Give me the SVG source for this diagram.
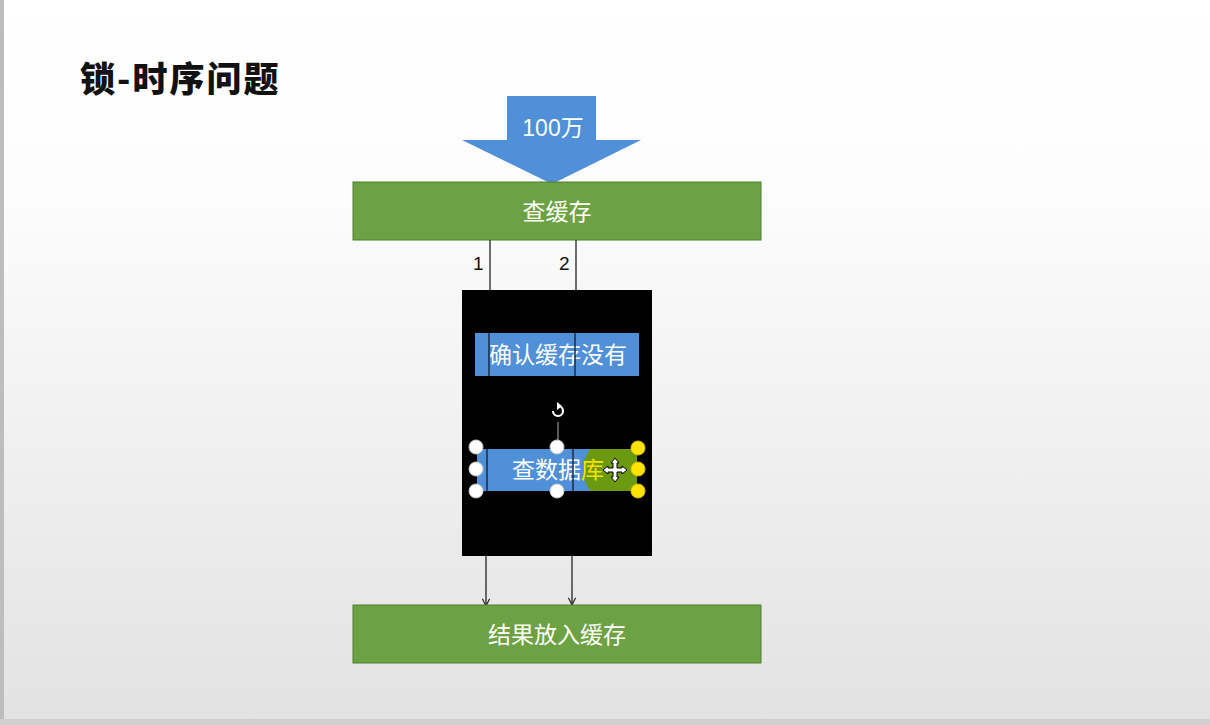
<svg xmlns="http://www.w3.org/2000/svg" width="1210" height="725" viewBox="0 0 1210 725">
<defs>
<linearGradient id="bg" x1="0" y1="0" x2="0" y2="1">
<stop offset="0" stop-color="#ffffff"/>
<stop offset="0.25" stop-color="#fdfdfd"/>
<stop offset="1" stop-color="#e2e2e2"/>
</linearGradient>
<marker id="arr" viewBox="0 0 10 10" refX="9" refY="5" markerWidth="9" markerHeight="9" markerUnits="userSpaceOnUse" orient="auto">
<path d="M1,1 L9,5 L1,9" fill="none" stroke="#222" stroke-width="1.3"/>
</marker>
<style>
.green{fill:#6ca243;stroke:#4e7f2c;stroke-width:1}
.blue{fill:#4f90d9}
.wt{font-family:"Liberation Sans","Noto Sans CJK SC",sans-serif;font-size:23px;fill:#ffffff;text-anchor:middle}
.ln{stroke:#222;stroke-width:1.3;fill:none}
.dk{stroke:#1a2a40;stroke-width:1.5;fill:none}
.hw{fill:#ffffff;stroke:#cccccc;stroke-width:1}
.hy{fill:#ffe400;stroke:#d8c000;stroke-width:1}
.num{font-family:"Liberation Sans",sans-serif;font-size:19px;fill:#111}
</style>
</defs>
<rect width="1210" height="725" fill="url(#bg)"/>
<rect x="0" y="0" width="4" height="725" fill="#bdbdbd"/>
<rect x="0" y="719" width="1210" height="6" fill="#cfcfcf"/>
<text x="80" y="92" font-family="'Noto Sans CJK SC',sans-serif" font-weight="900" font-size="35" letter-spacing="2" fill="#111">锁-时序问题</text>

<g id="input">
<path d="M507,96 L596,96 L596,140 L641,140 L552,184 L462,140 L507,140 Z" fill="#4f90d9"/>
<text class="wt" x="553" y="136">100万</text>
</g>

<g id="query-cache">
<rect class="green" x="353" y="182" width="408" height="58"/>
<text class="wt" x="557" y="220">查缓存</text>
</g>

<g id="locked-block">
<rect x="462" y="290" width="190" height="266" fill="#000"/>
</g>

<g id="confirm">
<rect class="blue" x="475" y="333" width="164" height="43"/>
<text class="wt" x="558" y="363">确认缓存没有</text>
</g>

<g id="query-db">
<rect class="blue" x="477" y="449" width="160" height="42"/>
<path d="M637,449 L590,449 Q576,470 590,491 L637,491 Z" fill="#6b9a10"/>
<text x="512" y="478" font-family="'Liberation Sans','Noto Sans CJK SC',sans-serif" font-size="23" fill="#fff">查数据<tspan fill="#f5e200">库</tspan></text>
<line x1="558" y1="422" x2="558" y2="447" stroke="#777" stroke-width="1.5"/>
<path d="M553,411 A5,5 0 1 0 558,406" fill="none" stroke="#fff" stroke-width="2.2"/>
<path d="M557,402 L562,406 L557,410 Z" fill="#fff"/>
<g stroke="#000" stroke-width="1" fill="#fff">
<path d="M615,458 L619,463 L617,463 L617,468 L622,468 L622,466 L627,470 L622,474 L622,472 L617,472 L617,477 L619,477 L615,482 L611,477 L613,477 L613,472 L608,472 L608,474 L603,470 L608,466 L608,468 L613,468 L613,463 L611,463 Z"/>
</g>
</g>

<g id="connectors">
<line class="ln" x1="490" y1="240" x2="490" y2="291"/>
<line class="ln" x1="576" y1="240" x2="576" y2="291"/>
<line class="dk" x1="489" y1="333" x2="489" y2="376"/>
<line class="dk" x1="575" y1="333" x2="575" y2="376"/>
<line class="dk" x1="487" y1="449" x2="487" y2="491"/>
<line class="dk" x1="573" y1="449" x2="573" y2="491"/>
<line class="ln" x1="486" y1="556" x2="486" y2="606" marker-end="url(#arr)"/>
<line class="ln" x1="572" y1="556" x2="572" y2="605" marker-end="url(#arr)"/>
<text class="num" x="473" y="270">1</text>
<text class="num" x="559" y="270">2</text>
</g>

<g id="handles">
<circle class="hw" cx="476" cy="447" r="7"/>
<circle class="hw" cx="476" cy="469" r="7"/>
<circle class="hw" cx="476" cy="491" r="7"/>
<circle class="hw" cx="557" cy="447" r="7"/>
<circle class="hw" cx="557" cy="491" r="7"/>
<circle class="hy" cx="638" cy="448" r="7"/>
<circle class="hy" cx="638" cy="469" r="7"/>
<circle class="hy" cx="638" cy="491" r="7"/>
</g>

<g id="put-cache">
<rect class="green" x="353" y="605" width="408" height="58"/>
<text class="wt" x="557" y="643">结果放入缓存</text>
</g>
</svg>
